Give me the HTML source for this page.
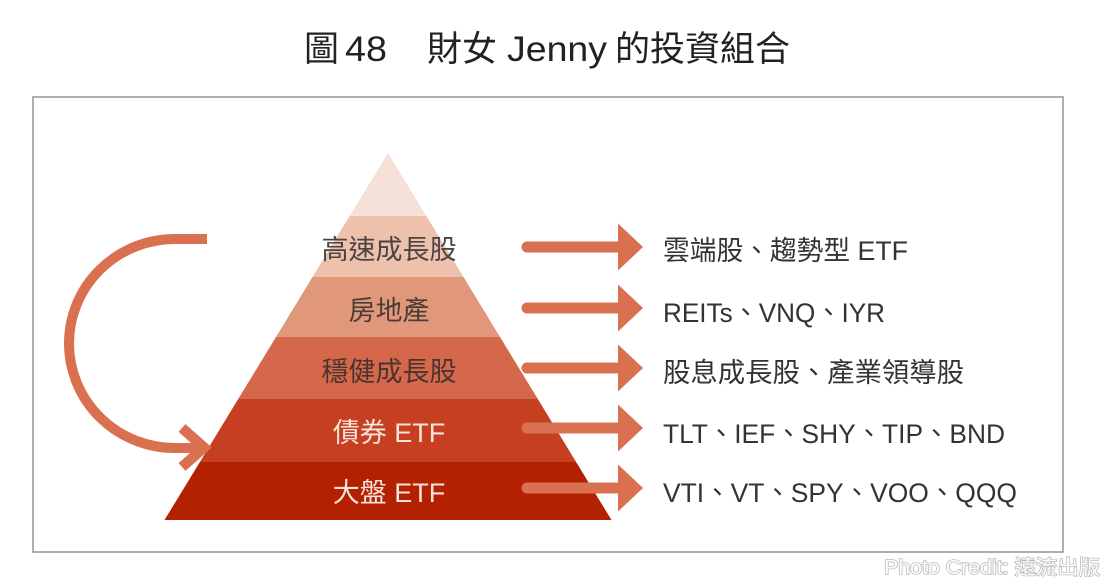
<!DOCTYPE html>
<html>
<head>
<meta charset="utf-8">
<style>
  html, body { margin:0; padding:0; background:#ffffff; }
  body { width:1110px; height:585px; overflow:hidden; }
  svg { display:block; }
  text { font-family: "Liberation Sans", "Noto Sans CJK TC", "Noto Sans CJK SC", sans-serif; }
</style>
</head>
<body>
<svg width="1110" height="585" viewBox="0 0 1110 585" xmlns="http://www.w3.org/2000/svg">
  <rect x="0" y="0" width="1110" height="585" fill="#ffffff"/>

  <!-- Title -->
  <g fill="#222" font-size="35">
    <text x="304" y="61">圖</text>
    <text x="345" y="61" textLength="42" lengthAdjust="spacingAndGlyphs">48</text>
    <text x="427" y="61">財女</text>
    <text x="507" y="61" textLength="100" lengthAdjust="spacingAndGlyphs">Jenny</text>
    <text x="615" y="61">的投資組合</text>
  </g>

  <!-- Frame -->
  <rect x="33" y="97" width="1030" height="455" fill="#ffffff" stroke="#9a9a9a" stroke-width="1.6"/>

  <!-- Pyramid bands -->
  <polygon points="388,153 426.4,216 349.6,216" fill="#f5e1d8"/>
  <polygon points="349.6,216 426.4,216 463.5,277 312.5,277" fill="#eec1ad"/>
  <polygon points="312.5,277 463.5,277 500.0,337 276.0,337" fill="#e1977a"/>
  <polygon points="276.0,337 500.0,337 537.8,399 238.2,399" fill="#d5684b"/>
  <polygon points="238.2,399 537.8,399 576.1,462 199.9,462" fill="#c53f20"/>
  <polygon points="199.9,462 576.1,462 611.5,520 164.5,520" fill="#b32102"/>

  <!-- Pyramid labels -->
  <g font-size="27" text-anchor="middle">
    <text x="389" y="259" fill="#4a4443">高速成長股</text>
    <text x="389" y="320" fill="#4a3c38">房地產</text>
    <text x="389" y="381" fill="#4a3430">穩健成長股</text>
    <text x="389" y="442" fill="#f7e3da">債券 ETF</text>
    <text x="389" y="502" fill="#f7e3da">大盤 ETF</text>
  </g>

  <!-- Right arrows -->
  <g fill="#d9704f" stroke="none">
    <line x1="527" y1="247" x2="622" y2="247" stroke="#d9704f" stroke-width="11" stroke-linecap="round"/>
    <polygon points="618,223.5 643,247 618,270.5"/>
    <line x1="527" y1="308" x2="622" y2="308" stroke="#d9704f" stroke-width="11" stroke-linecap="round"/>
    <polygon points="618,284.5 643,308 618,331.5"/>
    <line x1="527" y1="368" x2="622" y2="368" stroke="#d9704f" stroke-width="11" stroke-linecap="round"/>
    <polygon points="618,344.5 643,368 618,391.5"/>
    <line x1="527" y1="428" x2="622" y2="428" stroke="#d9704f" stroke-width="11" stroke-linecap="round"/>
    <polygon points="618,404.5 643,428 618,451.5"/>
    <line x1="527" y1="488" x2="622" y2="488" stroke="#d9704f" stroke-width="11" stroke-linecap="round"/>
    <polygon points="618,464.5 643,488 618,511.5"/>
  </g>

  <!-- Right labels -->
  <g font-size="27" fill="#333">
    <text x="663" y="260" textLength="245" lengthAdjust="spacingAndGlyphs">雲端股、趨勢型 ETF</text>
    <text x="663" y="322" textLength="222" lengthAdjust="spacingAndGlyphs">REITs、VNQ、IYR</text>
    <text x="663" y="382" textLength="301" lengthAdjust="spacingAndGlyphs">股息成長股、產業領導股</text>
    <text x="663" y="443" textLength="342" lengthAdjust="spacingAndGlyphs">TLT、IEF、SHY、TIP、BND</text>
    <text x="663" y="502" textLength="354" lengthAdjust="spacingAndGlyphs">VTI、VT、SPY、VOO、QQQ</text>
  </g>

  <!-- Curved arrow on the left -->
  <path d="M207,239 L175,239 A106,104.5 0 0 0 175,448 L201,448"
        fill="none" stroke="#d9704f" stroke-width="10"/>
  <polyline points="182,428 204,447.5 182,467" fill="none" stroke="#d9704f" stroke-width="10.5" stroke-linejoin="miter"/>

  <!-- Photo credit -->
  <text x="1100" y="574" text-anchor="end" font-size="20" fill="#ffffff"
        stroke="#bdbdbd" stroke-width="1.6" paint-order="stroke"
        textLength="216" lengthAdjust="spacingAndGlyphs">Photo Credit: 遠流出版</text>
</svg>
</body>
</html>
